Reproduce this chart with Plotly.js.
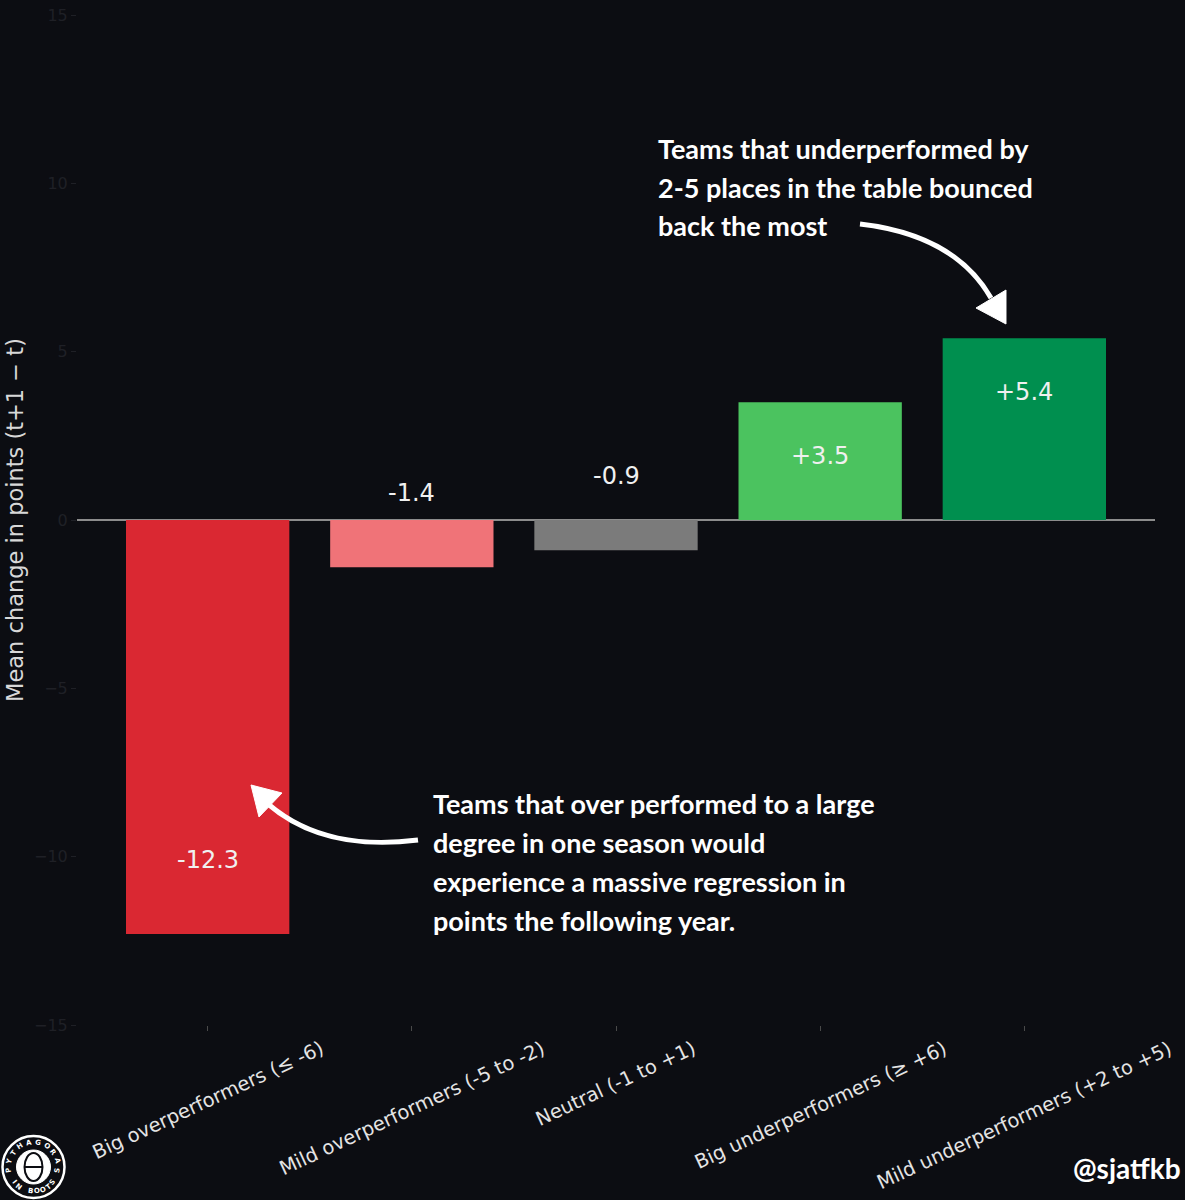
<!DOCTYPE html>
<html>
<head>
<meta charset="utf-8">
<script src="https://cdn.plot.ly/plotly-3.0.1.min.js"></script>
<style>
  html, body { margin: 0; padding: 0; background: #0c0d12; }
  #chart { width: 1185px; height: 1200px; }
</style>
</head>
<body>
<div id="chart"></div>
<script>
// ---- data ----
const categories = [
  "Big overperformers (≤ -6)",
  "Mild overperformers (-5 to -2)",
  "Neutral (-1 to +1)",
  "Big underperformers (≥ +6)",
  "Mild underperformers (+2 to +5)"
];
const meanChange = [-12.3, -1.4, -0.9, 3.5, 5.4];
const barColors = ["#da2832", "#f07378", "#7b7b7b", "#4bc35f", "#008f4f"];
const yTicks = [-15, -10, -5, 0, 5, 10, 15];
const noteTop = [
  "Teams that underperformed by",
  "2-5 places in the table bounced",
  "back the most"
];
const noteBottom = [
  "Teams that over performed to a large",
  "degree in one season would",
  "experience a massive regression in",
  "points the following year."
];

// ---- pixel helpers for decorations (plot area: 77..1155 x 15..1025) ----
const PL = 77, PR = 1155, PT = 15, PB = 1025;
const px = x => (x - PL) / (PR - PL);
const py = y => (PB - y) / (PB - PT);
const P = (x, y) => px(x).toFixed(5) + "," + py(y).toFixed(5);

const annotations = [];

// value labels
meanChange.forEach((v, i) => {
  annotations.push({
    x: categories[i], y: v > 0 ? v - 1.6 : v + 2.2,
    xref: "x", yref: "y",
    text: (v > 0 ? "+" : "") + v.toFixed(1),
    showarrow: false,
    font: { family: "DejaVu Sans", size: 24, color: "#f0f0f0" },
    xanchor: "center", yanchor: "middle"
  });
});

// rotated category labels
categories.forEach((c, i) => {
  annotations.push({
    x: c, y: 0, xref: "x", yref: "paper",
    text: c, showarrow: false, textangle: -25,
    font: { family: "DejaVu Sans", size: 19.5, color: "#e4e4e4" },
    xanchor: "center", yanchor: "top", yshift: -9
  });
});

// notes
const noteFont = { family: "Lato", size: 27, color: "#ffffff", weight: 700 };
noteTop.forEach((t, k) => {
  annotations.push({
    x: px(656), y: py(148 + 39 * k), xref: "paper", yref: "paper",
    text: "<b>" + t + "</b>", showarrow: false, font: noteFont,
    xanchor: "left", yanchor: "middle"
  });
});
noteBottom.forEach((t, k) => {
  annotations.push({
    x: px(431), y: py(803 + 39 * k), xref: "paper", yref: "paper",
    text: "<b>" + t + "</b>", showarrow: false, font: noteFont,
    xanchor: "left", yanchor: "middle"
  });
});

// handle
annotations.push({
  x: px(1183), y: py(1168), xref: "paper", yref: "paper",
  text: "<b>@sjatfkb</b>", showarrow: false,
  font: { family: "Lato", size: 28, color: "#ffffff" },
  xanchor: "right", yanchor: "middle"
});

// logo letters around a circle
const LCX = 33.5, LCY = 1167, LR = 24.5;
function arcText(str, a0, a1) {
  const n = str.length;
  for (let k = 0; k < n; k++) {
    const ch = str[k];
    const a = a0 + (a1 - a0) * (n === 1 ? 0.5 : k / (n - 1));
    const r = a * Math.PI / 180;
    if (ch === " ") continue;
    const bottom = a > 90 && a < 270;
    annotations.push({
      x: px(LCX + LR * Math.sin(r)), y: py(LCY - LR * Math.cos(r)),
      xref: "paper", yref: "paper", text: "<b>" + ch + "</b>", showarrow: false,
      textangle: bottom ? a - 180 : a,
      font: { family: "DejaVu Sans", size: 7, color: "#ffffff" },
      xanchor: "center", yanchor: "middle"
    });
  }
}
arcText("PYTHAGORAS", -98, 98);
arcText("IN BOOTS", 232, 128);

const shapes = [
  // arrow top
  { type: "path", xref: "paper", yref: "paper",
    path: "M" + P(860, 224) + " Q" + P(955, 235) + " " + P(991, 298),
    line: { color: "#ffffff", width: 5 } },
  { type: "path", xref: "paper", yref: "paper",
    path: "M" + P(976, 308) + " L" + P(1006, 290) + " L" + P(1006, 324) + " Z",
    fillcolor: "#ffffff", line: { color: "#ffffff", width: 1 } },
  // arrow bottom
  { type: "path", xref: "paper", yref: "paper",
    path: "M" + P(418, 840) + " C" + P(362, 847) + " " + P(310, 840) + " " + P(268, 804),
    line: { color: "#ffffff", width: 5 } },
  { type: "path", xref: "paper", yref: "paper",
    path: "M" + P(251, 785) + " L" + P(282, 793) + " L" + P(259, 817) + " Z",
    fillcolor: "#ffffff", line: { color: "#ffffff", width: 1 } },
  // logo
  { type: "circle", xref: "paper", yref: "paper",
    x0: px(LCX - 31), x1: px(LCX + 31), y0: py(LCY + 31), y1: py(LCY - 31),
    line: { color: "#ffffff", width: 2.5 }, fillcolor: "#0c0d12" },
  { type: "circle", xref: "paper", yref: "paper",
    x0: px(LCX - 17), x1: px(LCX + 17), y0: py(LCY + 17), y1: py(LCY - 17),
    line: { color: "#ffffff", width: 1 }, fillcolor: "#ffffff" },
  { type: "circle", xref: "paper", yref: "paper",
    x0: px(LCX - 9), x1: px(LCX + 9), y0: py(LCY + 14), y1: py(LCY - 14),
    line: { color: "#0c0d12", width: 2 }, fillcolor: "rgba(0,0,0,0)" },
  { type: "line", xref: "paper", yref: "paper",
    x0: px(LCX - 9), x1: px(LCX + 9), y0: py(LCY), y1: py(LCY),
    line: { color: "#0c0d12", width: 2 } }
];

const trace = {
  type: "bar",
  x: categories,
  y: meanChange,
  width: 0.8,
  marker: { color: barColors, line: { width: 0 } },
  hoverinfo: "skip"
};

const layout = {
  width: 1185, height: 1200,
  margin: { l: PL, r: 1185 - PR, t: PT, b: 1200 - PB },
  paper_bgcolor: "#0c0d12",
  plot_bgcolor: "#0c0d12",
  showlegend: false,
  font: { family: "DejaVu Sans", color: "#e4e4e4" },
  xaxis: {
    type: "category",
    categoryorder: "array", categoryarray: categories,
    range: [-0.64, 4.64],
    showgrid: false, zeroline: false, showline: false,
    showticklabels: false,
    ticks: "outside", ticklen: 5, tickwidth: 1, tickcolor: "#4a4a4a"
  },
  yaxis: {
    range: [-15, 15],
    tickvals: yTicks,
    showgrid: false,
    zeroline: true, zerolinecolor: "#8c8c8c", zerolinewidth: 1.5,
    showline: false,
    ticks: "outside", ticklen: 5, tickwidth: 1, tickcolor: "#1f2026",
    tickfont: { family: "DejaVu Sans", size: 16, color: "#1f2026" },
    title: { text: "Mean change in points (t+1 − t)", standoff: 4,
             font: { family: "DejaVu Sans", size: 22.5, color: "#d8d8d8" } }
  },
  annotations: annotations,
  shapes: shapes
};

Plotly.newPlot("chart", [trace], layout, { displayModeBar: false, staticPlot: true });
</script>
</body>
</html>
